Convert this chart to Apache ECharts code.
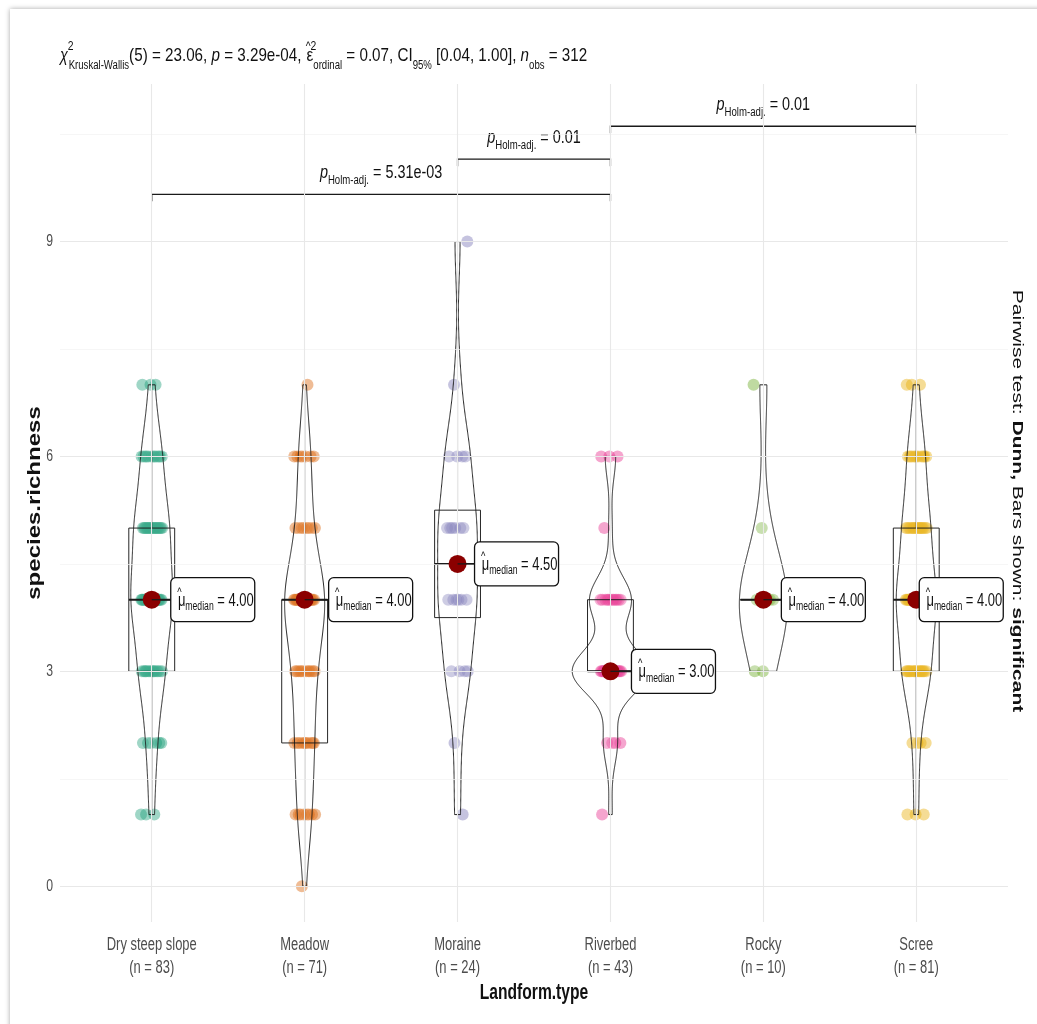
<!DOCTYPE html>
<html><head><meta charset="utf-8">
<script src="https://cdn.jsdelivr.net/npm/echarts@6/dist/echarts.min.js"></script>
<style>html,body{margin:0;padding:0;background:#fff}#c{width:1037px;height:1024px}</style>
</head><body><div id="c"></div>
<script>
// ---------------- data ----------------
const categories = ['Dry steep slope', 'Meadow', 'Moraine', 'Riverbed', 'Rocky', 'Scree'];
const sampleSizes = [83, 71, 24, 43, 10, 81];
const valueLevels = [0, 1, 2, 3, 4, 5, 6, 7, 8, 9];
// number of plots at each species-richness level (0..9)
const countsDrySteepSlope = [0, 3, 6, 15, 24, 20, 12, 3, 0, 0];
const countsMeadow        = [1, 8, 10, 12, 24, 8, 7, 1, 0, 0];
const countsMoraine       = [0, 1, 1, 4, 6, 6, 4, 1, 0, 1];
const countsRiverbed      = [0, 1, 4, 22, 12, 1, 3, 0, 0, 0];
const countsRocky         = [0, 0, 0, 2, 6, 1, 0, 1, 0, 0];
const countsScree         = [0, 3, 4, 18, 25, 17, 11, 3, 0, 0];
const yTickLabels = [0, 3, 6, 9];
const yGridMinor = [1.5, 4.5, 7.5, 10.5];
const pairIndices = [[0, 3], [2, 3], [3, 5]];
const pairPValues = ['5.31e-03', '0.01', '0.01'];
const bracketHeights = [9.66, 10.15, 10.61];
const kwDf = 5, kwStat = '23.06', kwP = '3.29e-04', epsSq = '0.07', ciLow = '0.04', ciHigh = '1.00', nObs = 312;

// ---------------- layout / style ----------------
const SANS = "'Liberation Sans',Arial,sans-serif";
const TXT = '#111';
const groupColors = ['#1B9E77', '#D95F02', '#7570B3', '#E7298A', '#66A61E', '#E6AB02'];
const violinHalfWidth = [0.137, 0.131, 0.13, 0.25, 0.157, 0.131];
const labelGap = [10, 15, 8, 12, 9, -6];
const JITTER = 0.07;
const SQ = 0.72;   // horizontal text compression of the original figure

// ---------------- stats ----------------
const groupCounts = [countsDrySteepSlope, countsMeadow, countsMoraine, countsRiverbed, countsRocky, countsScree];
function expand(counts) { const o = []; counts.forEach((c, k) => { for (let j = 0; j < c; j++) o.push(valueLevels[k]); }); return o; }
const groupValues = groupCounts.map(expand);
function q7(s, p) { const h = (s.length - 1) * p, lo = Math.floor(h), hi = Math.ceil(h); return s[lo] + (h - lo) * (s[hi] - s[lo]); }
function bwNrd0(s) {
  const n = s.length, m = s.reduce((a, b) => a + b, 0) / n;
  const sd = Math.sqrt(s.reduce((a, b) => a + (b - m) * (b - m), 0) / (n - 1));
  let lo = Math.min(sd, (q7(s, .75) - q7(s, .25)) / 1.34);
  if (!lo) lo = sd || Math.abs(s[0]) || 1;
  return 0.9 * lo * Math.pow(n, -0.2);
}
const stats = groupValues.map((v, gi) => {
  const s = v.slice().sort((a, b) => a - b);
  const q1 = q7(s, .25), med = q7(s, .5), q3 = q7(s, .75), iqr = q3 - q1;
  const upper = Math.max(...s.filter(x => x <= q3 + 1.5 * iqr));
  const lower = Math.min(...s.filter(x => x >= q1 - 1.5 * iqr));
  const bw = bwNrd0(s), mn = s[0], mx = s[s.length - 1];
  const ys = [], dens = [];
  for (let k = 0; k < 512; k++) {
    const y = mn + (mx - mn) * k / 511; ys.push(y);
    let t = 0; for (const x of s) { const u = (y - x) / bw; t += Math.exp(-0.5 * u * u); }
    dens.push(t / (s.length * bw * Math.sqrt(2 * Math.PI)));
  }
  const dmax = Math.max(...dens);
  return { q1, med, q3, upper, lower, ys, hw: dens.map(d => d / dmax * violinHalfWidth[gi]) };
});

function jitterData(i) {
  const pts = []; let idx = 0;
  groupCounts[i].forEach((c, k) => {
    for (let j = 0; j < c; j++) {
      const f = ((idx * 0.61803398875 + i * 0.37) % 1) - 0.5;
      pts.push([i + f * 2 * JITTER, valueLevels[k]]); idx++;
    }
  });
  return pts;
}

// ---------------- chart ----------------
const chart = echarts.init(document.getElementById('c'), null, { renderer: 'canvas' });
const LINE = '#1a1a1a';

function renderViolin(params, api) {
  const i = api.value(0), s = stats[i];
  const pts = [];
  for (let k = 0; k < s.ys.length; k++) pts.push(api.coord([i - s.hw[k], s.ys[k]]));
  for (let k = s.ys.length - 1; k >= 0; k--) pts.push(api.coord([i + s.hw[k], s.ys[k]]));
  const a = api.coord([i - 0.15, s.q3]), b = api.coord([i + 0.15, s.q1]);
  const m1 = api.coord([i - 0.15, s.med]), m2 = api.coord([i + 0.15, s.med]);
  const wt = api.coord([i, s.upper]), wb = api.coord([i, s.lower]);
  const q3c = api.coord([i, s.q3]), q1c = api.coord([i, s.q1]);
  return { type: 'group', children: [
    { type: 'polygon', shape: { points: pts }, style: { fill: 'rgba(255,255,255,0.15)', stroke: LINE, lineWidth: 0.95 } },
    { type: 'line', shape: { x1: q3c[0], y1: q3c[1], x2: wt[0], y2: wt[1] }, style: { stroke: LINE, lineWidth: 0.9 } },
    { type: 'line', shape: { x1: q1c[0], y1: q1c[1], x2: wb[0], y2: wb[1] }, style: { stroke: LINE, lineWidth: 0.9 } },
    { type: 'rect', shape: { x: a[0], y: a[1], width: b[0] - a[0], height: b[1] - a[1] }, style: { fill: 'none', stroke: LINE, lineWidth: 0.95 } },
    { type: 'line', shape: { x1: m1[0], y1: m1[1], x2: m2[0], y2: m2[1] }, style: { stroke: LINE, lineWidth: 2 } }
  ] };
}
const labRich = {
  hat: { fontFamily: SANS, fontSize: 13, fill: TXT, width: 1, lineHeight: 13, verticalAlign: 'top', padding: [0, 0, 0, 2] },
  mu: { fontFamily: SANS, fontSize: 18, fill: TXT, lineHeight: 30, verticalAlign: 'middle' },
  sub: { fontFamily: SANS, fontSize: 12, fill: TXT, lineHeight: 12, verticalAlign: 'bottom', padding: [0, 0, 3, 0] },
  m: { fontFamily: SANS, fontSize: 18, fill: TXT, lineHeight: 30, verticalAlign: 'middle' }
};
function renderMedianLabel(params, api) {
  const i = api.value(0), p = api.coord([i, stats[i].med]);
  const left = p[0] + 9 + labelGap[i];
  const ch = [];
  if (labelGap[i] > 0) ch.push({ type: 'line', shape: { x1: p[0], y1: p[1], x2: left, y2: p[1] }, style: { stroke: LINE, lineWidth: 1.3 } });
  ch.push({ type: 'rect', shape: { x: left, y: p[1] - 22, width: 84, height: 44, r: 5 }, style: { fill: '#fff', stroke: '#111', lineWidth: 1.3 } });
  ch.push({ type: 'text', x: left + 5, y: p[1] + 1, scaleX: SQ, style: {
    text: '{hat|^}{mu|μ}{sub|median}{m| = ' + stats[i].med.toFixed(2) + '}', rich: labRich, align: 'left', verticalAlign: 'middle' } });
  return { type: 'group', children: ch };
}
const pRich = {
  i: { fontFamily: SANS, fontSize: 18, fontStyle: 'italic', fill: TXT, lineHeight: 26, verticalAlign: 'middle' },
  sub: { fontFamily: SANS, fontSize: 12, fill: TXT, lineHeight: 12, verticalAlign: 'bottom' },
  m: { fontFamily: SANS, fontSize: 18, fill: TXT, lineHeight: 26, verticalAlign: 'middle' }
};
function renderBracket(params, api) {
  const k = params.dataIndex;
  const p1 = api.coord([api.value(0), api.value(2)]), p2 = api.coord([api.value(1), api.value(2)]);
  return { type: 'group', children: [
    { type: 'polyline', shape: { points: [[p1[0], p1[1] + 7], p1, p2, [p2[0], p2[1] + 7]] }, style: { fill: 'none', stroke: LINE, lineWidth: 1.3 } },
    { type: 'text', x: (p1[0] + p2[0]) / 2, y: p1[1] - 8, scaleX: 0.8, style: {
      text: '{i|p}{sub|Holm-adj.}{m| = ' + pairPValues[k] + '}', rich: pRich, align: 'center', verticalAlign: 'bottom' } }
  ] };
}
function renderXLabel(params, api) {
  const i = api.value(0), p = api.coord([i, -0.5]);
  return { type: 'text', x: p[0], y: p[1] + 12, scaleX: SQ, style: {
    text: categories[i] + '\n(n = ' + sampleSizes[i] + ')', fontFamily: SANS, fontSize: 18, lineHeight: 23,
    fill: '#4D4D4D', align: 'center', verticalAlign: 'top' } };
}
function renderYLabel(params, api) {
  const v = api.value(0), p = api.coord([-0.6, v]);
  return { type: 'text', x: p[0] - 7, y: p[1], scaleX: SQ, style: {
    text: String(v), fontFamily: SANS, fontSize: 17, fill: '#4D4D4D', align: 'right', verticalAlign: 'middle' } };
}

const gridLineData = [];
yTickLabels.forEach(v => gridLineData.push({ yAxis: v, lineStyle: { color: '#E8E8E8', width: 1.1, type: 'solid' } }));
yGridMinor.forEach(v => gridLineData.push({ yAxis: v, lineStyle: { color: '#F2F2F2', width: 0.7, type: 'solid' } }));
categories.forEach((c, i) => gridLineData.push({ xAxis: i, lineStyle: { color: '#E8E8E8', width: 1.1, type: 'solid' } }));

const series = [
  { type: 'scatter', data: [], silent: true, z: 0,
    markLine: { silent: true, symbol: 'none', label: { show: false }, animation: false, lineStyle: { type: 'solid' }, data: gridLineData } },
  { type: 'custom', renderItem: renderViolin, data: categories.map((c, i) => [i]), z: 3, silent: true, clip: false }
];
categories.forEach((c, i) => series.push({
  type: 'scatter', data: jitterData(i), symbolSize: 12, z: 2, silent: true,
  itemStyle: { color: groupColors[i], opacity: 0.42 }
}));
series.push({ type: 'scatter', z: 5, symbolSize: 18, silent: true, itemStyle: { color: '#8B0000', opacity: 1 },
  data: stats.map((s, i) => [i, s.med]) });
series.push({ type: 'custom', renderItem: renderMedianLabel, data: categories.map((c, i) => [i]), z: 6, silent: true, clip: false });
series.push({ type: 'custom', renderItem: renderBracket, z: 4, silent: true, clip: false,
  data: pairIndices.map((p, k) => [p[0], p[1], bracketHeights[k]]) });
series.push({ type: 'custom', renderItem: renderXLabel, z: 4, silent: true, clip: false, data: categories.map((c, i) => [i]) });
series.push({ type: 'custom', renderItem: renderYLabel, z: 4, silent: true, clip: false, data: yTickLabels.map(v => [v]) });

const tm = { fontFamily: SANS, fontSize: 19, fill: TXT, lineHeight: 32, verticalAlign: 'middle' };
const tsub = { fontFamily: SANS, fontSize: 12, fill: TXT, lineHeight: 12, verticalAlign: 'bottom' };
const tsup = { fontFamily: SANS, fontSize: 13, fill: TXT, lineHeight: 13, verticalAlign: 'top', width: 1 };
const titleText = '{chi|χ}{sup|2}{sub|Kruskal-Wallis}{m|(' + kwDf + ') = ' + kwStat + ', }{i|p}{m| = ' + kwP + ', }{sup|^2}{m|ε}{sub|ordinal}{m| = ' + epsSq + ', CI}{sub|95%}{m| [' + ciLow + ', ' + ciHigh + '], }{i|n}{sub|obs}{m| = ' + nObs + '}';

chart.setOption({
  animation: false,
  backgroundColor: '#fff',
  grid: { left: 60, right: 29, top: 84, bottom: 102, containLabel: false, outerBoundsMode: 'none' },
  xAxis: {
    type: 'value', min: -0.6, max: 5.6,
    axisLine: { show: false }, splitLine: { show: false }, axisLabel: { show: false },
    axisTick: { show: true, length: 4, customValues: categories.map((c, i) => i), lineStyle: { color: '#333' } }
  },
  yAxis: {
    type: 'value', min: -0.5, max: 11.2,
    axisLine: { show: false }, splitLine: { show: false }, axisLabel: { show: false },
    axisTick: { show: true, length: 4, customValues: yTickLabels, lineStyle: { color: '#333' } }
  },
  graphic: [
    { type: 'rect', z: -10, shape: { x: 10, y: 9, width: 1200, height: 1200 }, style: { fill: '#fff', shadowBlur: 5, shadowColor: 'rgba(0,0,0,0.35)' } },
    { type: 'text', z: 100, x: 60, y: 56, scaleX: 0.8,
      style: { text: titleText, align: 'left', verticalAlign: 'middle',
        rich: { m: tm, chi: Object.assign({}, tm, { fontStyle: 'italic', fontSize: 18 }), i: Object.assign({}, tm, { fontStyle: 'italic' }), sub: tsub, sup: tsup } } },
    { type: 'text', z: 100, x: 534, y: 993, scaleX: 0.71,
      style: { text: 'Landform.type', align: 'center', verticalAlign: 'middle', fontFamily: SANS, fontWeight: 'bold', fontSize: 22, fill: TXT } },
    { type: 'text', z: 100, x: 35, y: 503, rotation: Math.PI / 2, scaleY: 0.75,
      style: { text: 'species.richness', align: 'center', verticalAlign: 'middle', fontFamily: SANS, fontWeight: 'bold', fontSize: 24, fill: TXT } },
    { type: 'text', z: 100, x: 1017, y: 501, rotation: -Math.PI / 2, scaleY: 0.7,
      style: { text: 'Pairwise test: {b|Dunn,} Bars shown: {b|significant}', align: 'center', verticalAlign: 'middle',
        fontFamily: SANS, fontSize: 21, fill: TXT,
        rich: { b: { fontFamily: SANS, fontSize: 21, fontWeight: 'bold', fill: TXT } } } }
  ],
  series
});
</script></body></html>
